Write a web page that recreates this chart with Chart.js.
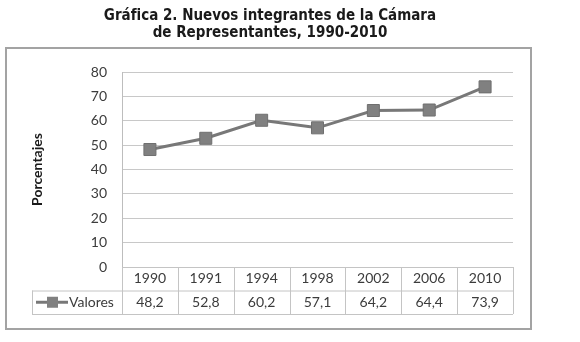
<!DOCTYPE html>
<html lang="es">
<head>
  <meta charset="UTF-8">
  <title>Gráfica 2</title>
  <style>
    body {
      margin: 0;
      background-color: white;
    }
    .wrap {
      position: relative;
      width: 580px;
      height: 342px;
    }
    .title {
      position: absolute;
      top: 7px;
      left: 0;
      width: 540px;
      height: 33px;
      overflow: hidden;
      text-align: center;
      font-family: 'DejaVu Sans Condensed', 'DejaVu Sans', sans-serif;
      font-weight: bold;
      font-size: 15px;
      line-height: 17px;
      color: #1a1a1a;
    }
    canvas {
      position: absolute;
      top: 0;
      left: 0;
    }
  </style>
  <script src="https://cdn.jsdelivr.net/npm/chart.js"></script>
</head>
<body>
  <div class="wrap">
    <canvas id="chart" width="580" height="342"></canvas>
    <div class="title">Gráfica 2. Nuevos integrantes de la Cámara<br>de Representantes, 1990-2010</div>
  </div>

  <script>
    const years = ['1990', '1991', '1994', '1998', '2002', '2006', '2010'];
    const valores = [48.2, 52.8, 60.2, 57.1, 64.2, 64.4, 73.9];
    const seriesName = 'Valores';
    const yTitle = 'Porcentajes';

    const lineColor = '#787878';
    const tableLine = '#c4c4c4';
    const textColor = '#3c3c3c';
    const labelFont = '14px Lato, sans-serif';

    // frame + data table under the plot, positioned from the x scale
    const tablePlugin = {
      id: 'tablePlugin',
      beforeDraw(chart) {
        const ctx = chart.ctx;
        ctx.save();
        ctx.strokeStyle = '#a3a3a3';
        ctx.lineWidth = 2;
        ctx.strokeRect(6, 48, 525, 281);
        ctx.restore();
      },
      afterDraw(chart) {
        const ctx = chart.ctx;
        const x = chart.scales.x;
        const area = chart.chartArea;
        const rowH = 23.5;
        const top = area.bottom;
        const mid = top + rowH;
        const bottom = mid + rowH;
        const legendLeft = 32;

        ctx.save();
        ctx.strokeStyle = tableLine;
        ctx.lineWidth = 1;
        ctx.beginPath();
        ctx.moveTo(area.left, top + 0.5); ctx.lineTo(area.right, top + 0.5);
        ctx.moveTo(legendLeft, mid + 0.5); ctx.lineTo(area.right, mid + 0.5);
        ctx.moveTo(legendLeft, bottom + 0.5); ctx.lineTo(area.right, bottom + 0.5);
        ctx.moveTo(legendLeft + 0.5, mid); ctx.lineTo(legendLeft + 0.5, bottom);
        ctx.moveTo(area.left + 0.5, top); ctx.lineTo(area.left + 0.5, bottom);
        for (let i = 0; i < years.length; i++) {
          const right = i < years.length - 1
            ? (x.getPixelForValue(i) + x.getPixelForValue(i + 1)) / 2
            : area.right;
          ctx.moveTo(Math.round(right) + 0.5, top); ctx.lineTo(Math.round(right) + 0.5, bottom);
        }
        ctx.stroke();

        ctx.fillStyle = textColor;
        ctx.font = labelFont;
        ctx.textAlign = 'center';
        ctx.textBaseline = 'middle';
        years.forEach((y, i) => {
          const px = x.getPixelForValue(i);
          ctx.fillText(y, px, top + rowH / 2);
          ctx.fillText(String(valores[i]).replace('.', ','), px, mid + rowH / 2);
        });

        // legend key
        const ly = mid + rowH / 2;
        ctx.strokeStyle = lineColor;
        ctx.lineWidth = 3;
        ctx.beginPath();
        ctx.moveTo(36, ly); ctx.lineTo(68, ly);
        ctx.stroke();
        ctx.fillStyle = '#808080';
        ctx.fillRect(47, ly - 5.5, 11, 11);
        ctx.fillStyle = textColor;
        ctx.textAlign = 'left';
        ctx.fillText(seriesName, 69, ly);
        ctx.restore();
      }
    };

    const ctx = document.getElementById('chart').getContext('2d');
    new Chart(ctx, {
      type: 'line',
      data: {
        labels: years,
        datasets: [{
          label: seriesName,
          data: valores,
          borderColor: lineColor,
          borderWidth: 3,
          pointStyle: 'rect',
          pointRadius: 8.5,
          pointBorderWidth: 1,
          pointBorderColor: '#6f6f6f',
          pointBackgroundColor: '#808080',
          tension: 0
        }]
      },
      options: {
        responsive: false,
        animation: false,
        layout: {
          padding: { top: 72, bottom: 67, right: 67, left: 0 }
        },
        scales: {
          x: {
            offset: true,
            grid: { display: false },
            border: { display: false },
            ticks: { display: false }
          },
          y: {
            min: 0,
            max: 80,
            afterFit(scale) { scale.width = 122; },
            ticks: {
              stepSize: 10,
              padding: 15,
              color: textColor,
              font: { family: 'Lato', size: 14 }
            },
            grid: { color: '#c8c8c8', drawTicks: false },
            border: { color: '#bdbdbd' },
            title: {
              display: true,
              text: yTitle,
              color: '#1a1a1a',
              padding: { top: 29 },
              font: { family: 'Lato', size: 14, weight: 'bold' }
            }
          }
        },
        plugins: {
          legend: { display: false },
          tooltip: { enabled: false }
        }
      },
      plugins: [tablePlugin]
    });
  </script>
</body>
</html>
